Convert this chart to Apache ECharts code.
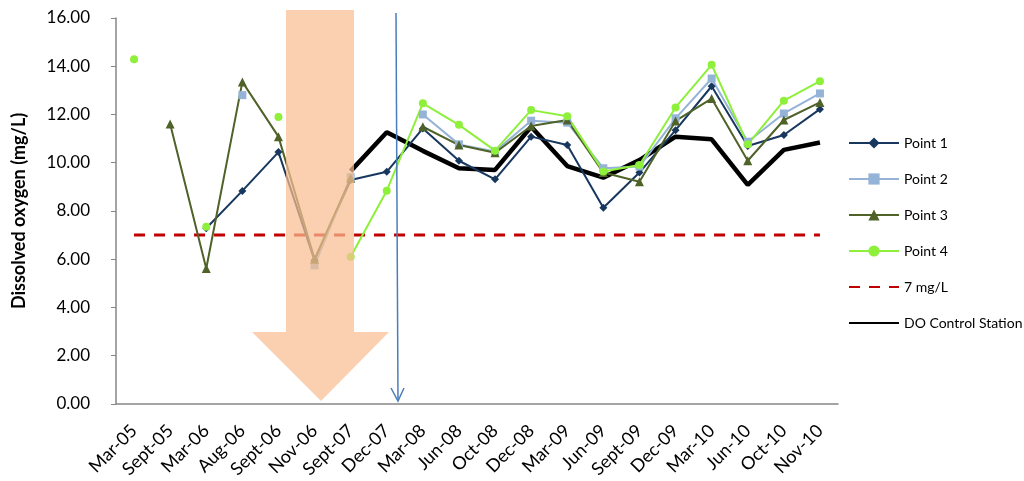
<!DOCTYPE html>
<html lang="en">
<head>
    <meta charset="utf-8"/>
    <title>Dissolved oxygen</title>
    <script src="https://cdn.jsdelivr.net/npm/echarts@6.0.0/dist/echarts.min.js"></script>
</head>
<body style="margin: 0;">
<div id="chart" style="width: 1024px;height:481px;"></div>
<script type="text/javascript">
    // prettier-ignore
    const months = [
        'Mar-05', 'Sept-05', 'Mar-06', 'Aug-06', 'Sept-06', 'Nov-06', 'Sept-07', 'Dec-07',
        'Mar-08', 'Jun-08', 'Oct-08', 'Dec-08', 'Mar-09', 'Jun-09', 'Sept-09', 'Dec-09',
        'Mar-10', 'Jun-10', 'Oct-10', 'Nov-10'
    ];
    const yTicks = [0, 2, 4, 6, 8, 10, 12, 14, 16];
    // null = no sample, line breaks there
    const point1 = [null, null, 7.28, 8.83, 10.44, 5.95, 9.28, 9.62,
        11.42, 10.08, 9.31, 11.08, 10.73, 8.13, 9.59, 11.35, 13.17, 10.69, 11.15, 12.22];
    const point2 = [null, null, null, 12.8, null, 5.74, 9.4, null,
        12.0, 10.76, 10.46, 11.74, 11.66, 9.77, 9.84, 11.84, 13.49, 10.87, 12.04, 12.87];
    const point3 = [null, 11.6, 5.61, 13.35, 11.08, 6.0, 9.35, null,
        11.49, 10.73, 10.41, 11.52, 11.77, 9.59, 9.21, 11.73, 12.66, 10.08, 11.77, 12.5];
    const point4 = [14.29, null, 7.34, null, 11.89, null, 6.1, 8.84,
        12.46, 11.57, 10.5, 12.18, 11.93, 9.63, 9.9, 12.29, 14.06, 10.76, 12.57, 13.38];
    const limit7 = [7, 7, 7, 7, 7, 7, 7, 7, 7, 7, 7, 7, 7, 7, 7, 7, 7, 7, 7, 7];
    const control = [null, null, null, null, null, null, 9.65, 11.26,
        10.49, 9.77, 9.7, 11.49, 9.86, 9.38, 10.11, 11.08, 10.97, 9.08, 10.53, 10.84];

    const font = 'Lato, "Open Sans", sans-serif';
    const clear = 'rgba(0,0,0,0)';

    let chart = echarts.init(document.getElementById('chart'));
    chart.setOption({
        animation: false,
        grid: {left: 116, right: 186, top: 18, bottom: 77},
        xAxis: {
            type: 'category',
            data: months,
            axisLine: {lineStyle: {color: '#868686', width: 1.5}},
            axisTick: {lineStyle: {color: '#868686'}, length: 5},
            axisLabel: {
                rotate: 45, fontSize: 18, color: '#000', fontFamily: font,
                margin: 24, interval: 0
            }
        },
        yAxis: {
            type: 'value',
            min: yTicks[0],
            max: yTicks[yTicks.length - 1],
            interval: 2,
            name: 'Dissolved oxygen (mg/L)',
            nameLocation: 'middle',
            nameGap: 88,
            nameTextStyle: {fontSize: 18, fontWeight: 'bold', color: '#000', fontFamily: font},
            axisLine: {show: true, lineStyle: {color: '#868686', width: 1.5}},
            axisTick: {show: true, length: 5, lineStyle: {color: '#868686'}},
            splitLine: {show: false},
            axisLabel: {
                fontSize: 17, color: '#000', fontFamily: font, margin: 26,
                formatter: function (v) { return v.toFixed(2); }
            }
        },
        legend: {
            orient: 'vertical',
            left: 843,
            top: 131,
            itemGap: 22,
            itemWidth: 50,
            itemHeight: 14,
            textStyle: {fontSize: 14, color: '#000', fontFamily: font},
            data: ['Point 1', 'Point 2', 'Point 3', 'Point 4', '7 mg/L', 'DO Control Station']
        },
        series: [
            {
                name: '7 mg/L', type: 'line', data: limit7, symbol: 'none',
                lineStyle: {color: '#c00000', width: 3, type: [11, 9]},
                itemStyle: {color: clear}
            },
            {
                name: 'DO Control Station', type: 'line', data: control, symbol: 'none',
                lineStyle: {color: '#000', width: 4.5},
                itemStyle: {color: clear}
            },
            {
                name: 'Point 1', type: 'line', data: point1, symbol: 'diamond', symbolSize: 8,
                lineStyle: {color: '#17375e', width: 2},
                itemStyle: {color: '#17375e'}
            },
            {
                name: 'Point 2', type: 'line', data: point2, symbol: 'rect', symbolSize: 8,
                lineStyle: {color: '#95b3d7', width: 2},
                itemStyle: {color: '#95b3d7'}
            },
            {
                name: 'Point 3', type: 'line', data: point3, symbol: 'triangle', symbolSize: 9,
                lineStyle: {color: '#4f6228', width: 2},
                itemStyle: {color: '#4f6228'}
            },
            {
                name: 'Point 4', type: 'line', data: point4, symbol: 'circle', symbolSize: 8,
                lineStyle: {color: '#8ef03a', width: 2},
                itemStyle: {color: '#8ef03a'}
            }
        ],
        graphic: [
            {
                // big shaded arrow
                type: 'polygon', z: 100,
                shape: {
                    points: [[286, 10], [354, 10], [354, 332], [389, 332],
                        [321, 401], [252, 332], [286, 332]]
                },
                style: {fill: 'rgba(248, 190, 145, 0.72)'}
            },
            {
                type: 'line', z: 100,
                shape: {x1: 396, y1: 13, x2: 398, y2: 401},
                style: {stroke: '#4a7ebb', lineWidth: 1.5}
            },
            {
                type: 'polyline', z: 100,
                shape: {points: [[391, 388], [398, 401], [404, 388]]},
                style: {stroke: '#4a7ebb', lineWidth: 1.5, fill: null}
            }
        ]
    });
</script>
</body>
</html>
